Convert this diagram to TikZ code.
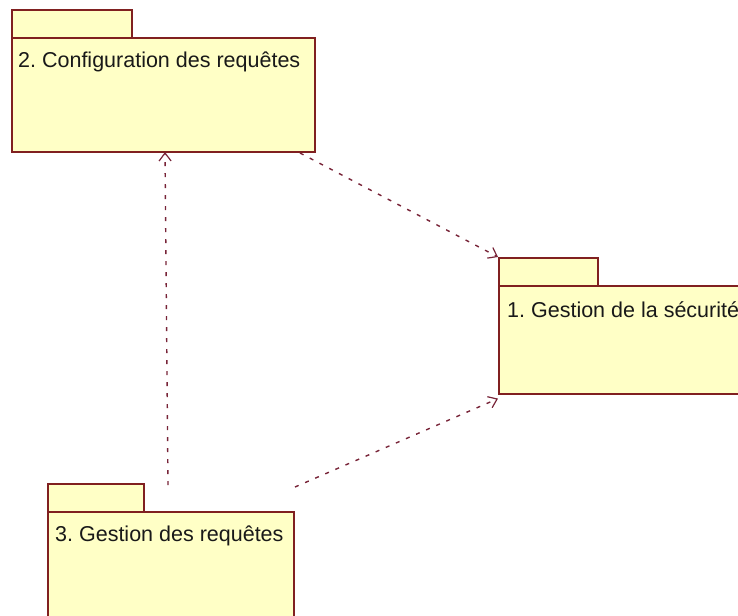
\documentclass[tikz,border=0pt]{standalone}
\usepackage{fontspec}
\setmainfont{Liberation Sans}
\usetikzlibrary{arrows.meta}
\definecolor{pkgfill}{RGB}{255,255,198}
\definecolor{pkgline}{RGB}{128,32,32}
\definecolor{deparrow}{RGB}{120,36,56}
\definecolor{pkgtext}{RGB}{25,25,25}
\tikzset{
  pkgbox/.style={draw=pkgline, fill=pkgfill, line width=1.6pt, inner sep=0pt, anchor=north west},
  pkgname/.style={anchor=base west, inner sep=0pt, text=pkgtext, font=\fontsize{21.5}{24}\selectfont},
  dep/.style={draw=deparrow, line width=1.4pt, dash pattern=on 4pt off 7pt,
    -{Straight Barb[length=8pt,width=12pt,line width=1.2pt]}},
}
\begin{document}
\frenchspacing
\begin{tikzpicture}[x=1pt,y=-1pt]
\useasboundingbox (0,0) rectangle (738,615);
\clip (0,0) rectangle (738,615);

% package 2
\node[pkgbox, minimum width=120pt, minimum height=28pt] (tab2) at (11,9) {};
\node[pkgbox, minimum width=303pt, minimum height=114pt] (pkg2) at (11,37) {};
\node[pkgname] (name2) at (18,68) {2. Configuration des requêtes};

% package 1
\node[pkgbox, minimum width=99pt, minimum height=28pt] (tab1) at (498,257) {};
\node[pkgbox, minimum width=260pt, minimum height=108pt] (pkg1) at (498,285) {};
\node[pkgname] (name1) at (507,317) {1. Gestion de la sécurité};

% package 3
\node[pkgbox, minimum width=96pt, minimum height=28pt] (tab3) at (47,483) {};
\node[pkgbox, minimum width=246pt, minimum height=130pt] (pkg3) at (47,511) {};
\node[pkgname] (name3) at (55,541) {3. Gestion des requêtes};

% dependency endpoints
\coordinate (s21) at (300,153);
\coordinate (s31) at (295,487);
\coordinate (s32) at (168,485);
\coordinate (e32) at (165,152);

\draw[dep] (s21) -- (tab1.north west);
\draw[dep] (s31) -- ([yshift=-4pt]pkg1.south west);
\draw[dep] (s32) -- (e32);
\end{tikzpicture}
\end{document}
